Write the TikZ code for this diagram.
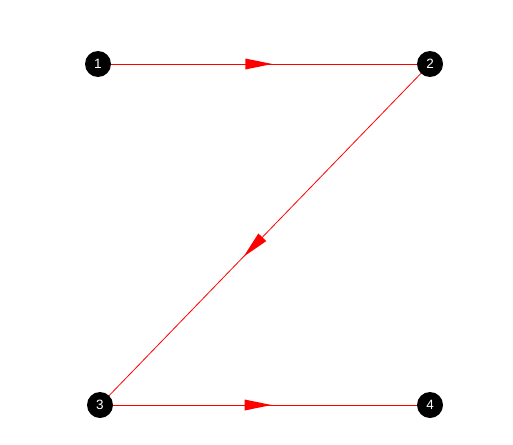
\documentclass[tikz,border=0pt]{standalone}
\usepackage{fontspec}
\setmainfont{Liberation Sans}
\usetikzlibrary{decorations.markings}
\begin{document}
\begin{tikzpicture}[x=1pt,y=-1pt,
  vtx/.style={circle,fill=black,draw=none,minimum size=26pt,inner sep=0pt,text=white,font=\fontsize{13.5}{14}\selectfont},
  edge/.style={draw=red,line width=0.8pt},
  midarrow/.style={postaction={decorate},decoration={markings,
    mark=at position #1 with {\fill[red] (-27pt,5.5pt) -- (0pt,0pt) -- (-27pt,-5.5pt) -- cycle;}}}
]
\useasboundingbox (0,0) rectangle (513,444);
\coordinate (c1) at (98,64);
\coordinate (c2) at (430,64);
\coordinate (c3) at (100,405);
\coordinate (c4) at (430,405);
\draw[edge,midarrow=0.525] (c1) -- (c2);
\draw[edge,midarrow=0.565] (c2) -- (c3);
\draw[edge,midarrow=0.52] (c3) -- (c4);
\node[vtx] (n1) at (c1) {1};
\node[vtx] (n2) at (c2) {2};
\node[vtx] (n3) at (c3) {3};
\node[vtx] (n4) at (c4) {4};
\end{tikzpicture}
\end{document}
